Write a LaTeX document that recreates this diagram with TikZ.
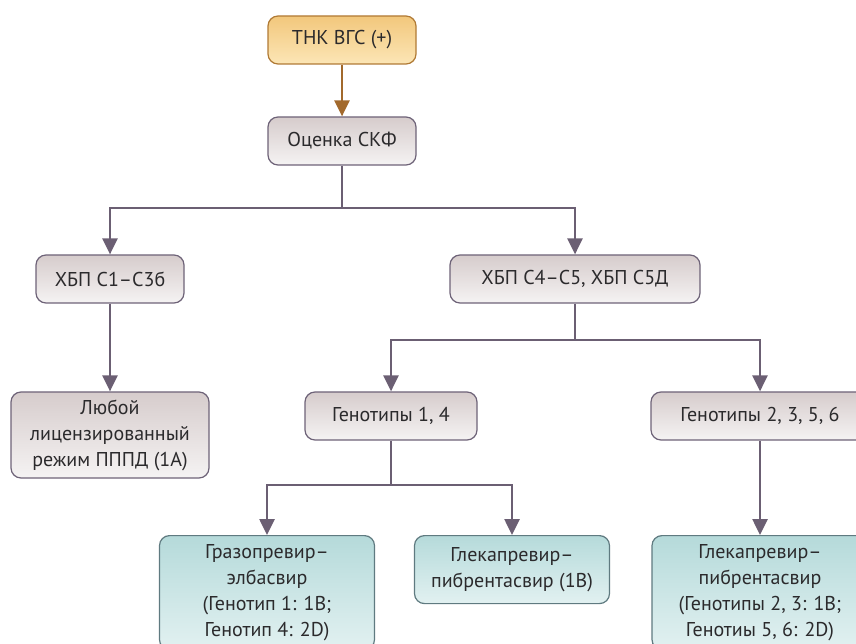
\documentclass[tikz,border=0pt]{standalone}
\usepackage{fontspec}
\setmainfont{PT Sans}
\usetikzlibrary{arrows.meta,positioning,shadings}

\definecolor{textgray}{HTML}{2B2A2C}
\definecolor{linkgray}{HTML}{6B5F73}
\definecolor{boxline}{HTML}{6E6378}
\definecolor{greytop}{HTML}{D6CCCC}
\definecolor{greybot}{HTML}{F5F3F3}
\definecolor{startline}{HTML}{B07A35}
\definecolor{startlink}{HTML}{A2692C}
\definecolor{orangetop}{HTML}{F2C77C}
\definecolor{orangebot}{HTML}{FCE6B6}
\definecolor{drugline}{HTML}{5F7A80}
\definecolor{tealtop}{HTML}{B5DADA}
\definecolor{tealbot}{HTML}{E2F1F1}

\begin{document}
\begin{tikzpicture}[
      x=1pt, y=1pt,
      every node/.style={font=\fontsize{20}{26}\selectfont, text=textgray, align=center, anchor=center},
      box/.style={draw=boxline, line width=1.2pt, rounded corners=10pt,
                  top color=greytop, bottom color=greybot, minimum height=48pt, inner sep=2pt},
      startbox/.style={box, draw=startline, top color=orangetop, bottom color=orangebot},
      drugbox/.style={box, draw=drugline, top color=tealtop, bottom color=tealbot, anchor=north},
      link/.style={draw=linkgray, line width=2.6pt, -{Triangle[width=15pt,length=16pt]}}
    ]
  \useasboundingbox (0,0) rectangle (856,643);

  % --- Knoten ---
  \node[startbox, minimum width=148pt] (hcv) at (342,603) {ТНК ВГС (+)};
  \node[box, minimum width=148pt] (gfr) at (342,502) {Оценка СКФ};

  \node[box, minimum width=148pt] (ckdA) at (110,364) {ХБП С1–С3б};
  \node[box, minimum width=250pt] (ckdB) at (575,364) {ХБП С4–С5, ХБП С5Д};

  \node[box, minimum width=198pt, minimum height=86pt] (anyreg) at (110,208)
    {Любой\\лицензированный\\режим ПППД (1А)};
  \node[box, minimum width=172pt] (gt14) at (391,227) {Генотипы 1, 4};
  \node[box, minimum width=218pt] (gt2356) at (760,227) {Генотипы 2, 3, 5, 6};

  \node[drugbox, minimum width=215pt, minimum height=114pt] (grzebr) at (267,108)
    {Гразопревир–\\элбасвир\\(Генотип 1: 1B;\\Генотип 4: 2D)};
  \node[drugbox, minimum width=195pt, minimum height=68pt] (glepib) at (512,108)
    {Глекапревир–\\пибрентасвир (1B)};
  \node[drugbox, minimum width=216pt, minimum height=114pt] (glepibB) at (760,108)
    {Глекапревир–\\пибрентасвир\\(Генотипы 2, 3: 1B;\\Генотиы 5, 6: 2D)};

  % --- Verzweigungspunkte ---
  \coordinate (splitA) at (342,435);
  \coordinate (splitB) at (575,303);
  \coordinate (splitC) at (391,158);

  % --- Pfeile ---
  \draw[link, draw=startlink] (hcv) -- (gfr);
  \draw[link] (gfr.south) -- (splitA) -| (ckdA.north);
  \draw[link] (splitA) -| (ckdB.north);
  \draw[link] (ckdA) -- (anyreg);
  \draw[link] (ckdB.south) -- (splitB) -| (gt14.north);
  \draw[link] (splitB) -| (gt2356.north);
  \draw[link] (gt14.south) -- (splitC) -| (grzebr.north);
  \draw[link] (splitC) -| (glepib.north);
  \draw[link] (gt2356) -- (glepibB);
\end{tikzpicture}
\end{document}
